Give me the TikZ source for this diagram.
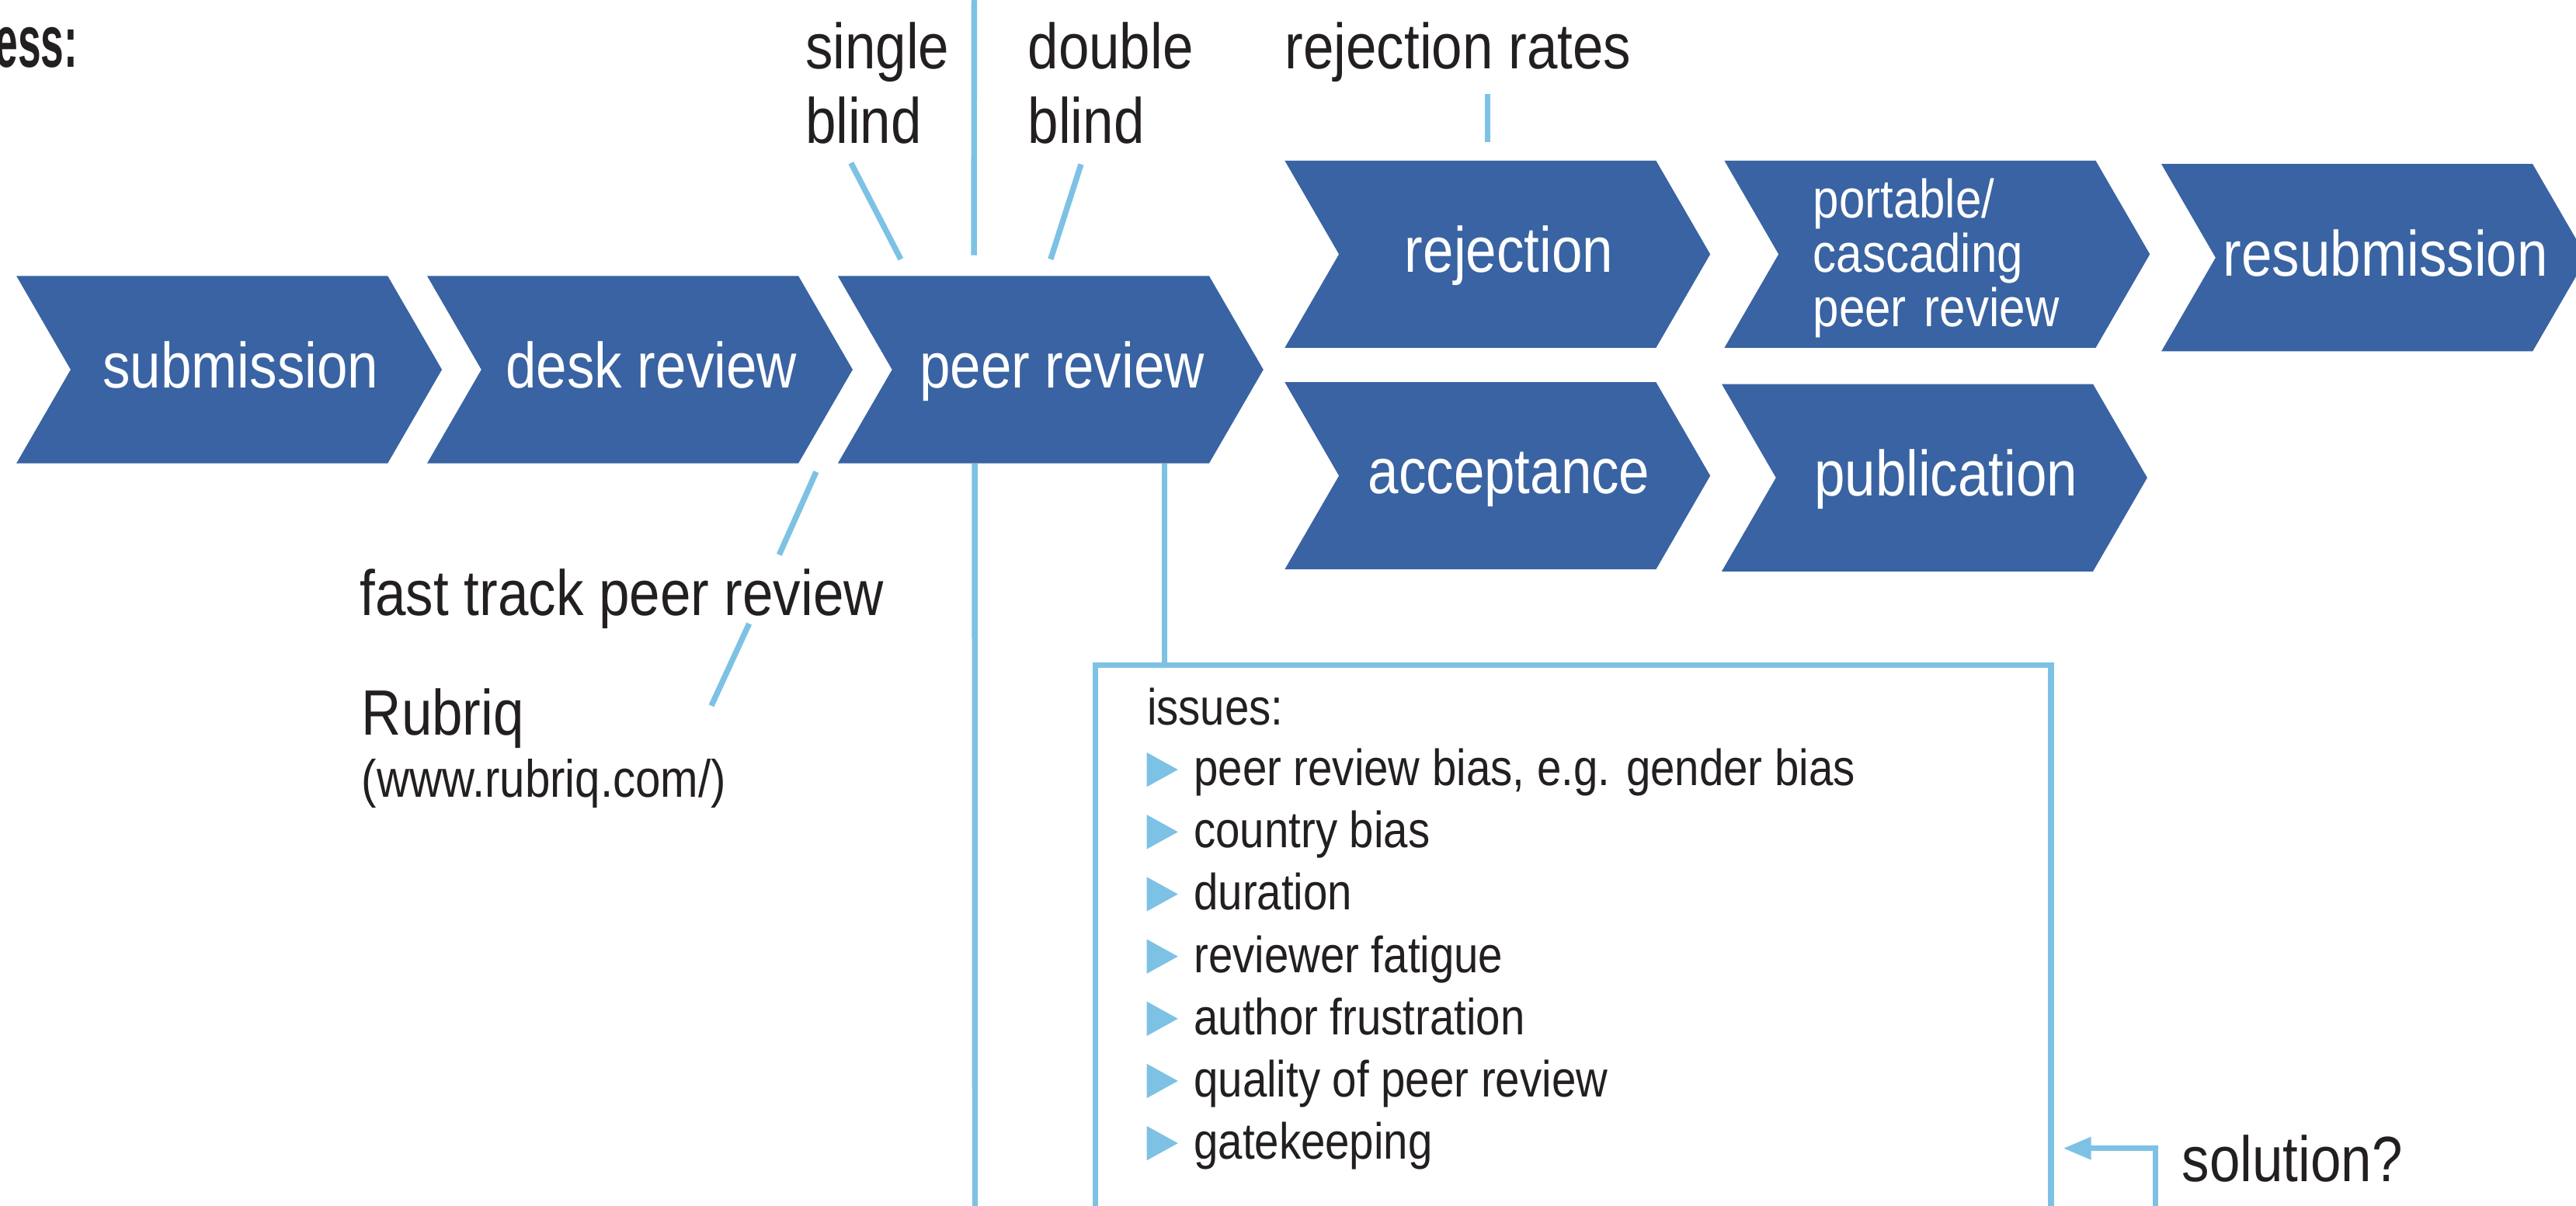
\documentclass[tikz,border=0pt]{standalone}
\usepackage{fontspec}
\setmainfont{Liberation Sans}[FakeStretch=0.86]
\newfontfamily\headfont{Liberation Sans}[FakeStretch=0.56]
\usetikzlibrary{arrows.meta,calc}
\definecolor{stageblue}{RGB}{57,99,162}
\definecolor{linkblue}{RGB}{125,194,228}
\definecolor{inkgray}{RGB}{35,31,32}
\tikzstyle{every node}=[inner sep=0pt,text=inkgray]
\tikzstyle{stage}=[minimum width=273pt,minimum height=114pt,text=white,font=\fontsize{39}{45}\selectfont,
    path picture={\fill[stageblue] (path picture bounding box.north west)
        -- ([xshift=226pt]path picture bounding box.north west)
        -- ([xshift=259pt]path picture bounding box.west)
        -- ([xshift=226pt]path picture bounding box.south west)
        -- (path picture bounding box.south west)
        -- ([xshift=33pt]path picture bounding box.west) -- cycle;}]
\tikzstyle{oneline}=[stage,text height=22pt,text depth=0pt]
\tikzstyle{note}=[font=\fontsize{39}{45}\selectfont,align=left,anchor=base west]
\tikzstyle{issue}=[font=\fontsize{31}{38}\selectfont,anchor=base west]
\tikzstyle{link}=[draw=linkblue,line width=3.5pt]

\begin{document}
\begin{tikzpicture}[x=1pt,y=-1pt]
    \useasboundingbox (0,0) rectangle (1568,734);
    % stages
    \node[oneline] (sub) at (146.5,225) {submission};
    \node[oneline] (desk) at (396.5,225) {desk review};
    \node[oneline] (peer) at (646.5,225) {peer review};
    \node[oneline] (rej) at (918.5,154.75) {rejection};
    \node[stage,font=\fontsize{33}{33}\selectfont,align=left,text width=165pt,text height=29pt] (port) at (1186.1,154.75) {portable/\\cascading\\peer review};
    \node[oneline] (resub) at (1452.1,156.85) {resubmission};
    \node[oneline] (acc) at (918.5,289.6) {acceptance};
    \node[oneline] (pub) at (1184.5,290.8) {publication};
    % notes
    \node[font=\headfont\bfseries\fontsize{45}{50}\selectfont,anchor=base east] (heading) at (47.5,41) {ess:};
    \node[note] (single) at (490,87) {single\\blind};
    \node[note] (double) at (625.5,87) {double\\blind};
    \node[note] (rates) at (782,41.9) {rejection rates};
    \node[note] (fast) at (219,374.6) {fast track peer review};
    \node[note] (rubriq) at (220,447.5) {Rubriq};
    \node[note,font=\fontsize{32}{38}\selectfont] (rubriqurl) at (220,485) {(www.rubriq.com/)};
    \node[note] (solution) at (1328,719) {solution?};
    % issues box
    \node[link,minimum width=581.7pt,minimum height=360pt,anchor=north west] (issues) at (665,403) {};
    \node[issue] (issuehead) at (698,441.4) {issues:};
    \foreach \txt [count=\i] in {{peer review bias, e.g. gender bias},country bias,duration,
        reviewer fatigue,author frustration,quality of peer review,gatekeeping} {
        \node[issue] (issue\i) at (726.5,{478.2+37.9*(\i-1)}) {\txt};
        \fill[linkblue] ($(issue\i.base west)+(-28.5,-20.2)$) -- ++(19,10.5) -- ++(-19,10.5) -- cycle;
    }
    % connectors
    \coordinate (top) at (593,-5);
    \coordinate (bottom) at (593.5,745);
    \coordinate (singleend) at (518,99.2);
    \coordinate (doubleend) at (658,100);
    \coordinate (solfoot) at (1312,745);
    \coordinate (soltip) at (1255.8,699);
    \draw[link] (top) -- ([xshift=83pt,yshift=12.4pt]peer.north west);
    \draw[link] (singleend) -- ([xshift=38.5pt,yshift=10pt]peer.north west);
    \draw[link] (doubleend) -- ([xshift=129.7pt,yshift=10pt]peer.north west);
    \draw[link] ([xshift=123.6pt,yshift=11pt]rej.north west) -- ++(0,-29.2);
    \draw[link] ([xshift=237pt,yshift=-5pt]desk.south west) -- ++(-22.5,50.5);
    \draw[link] ([xshift=237pt,yshift=-5pt]fast.base west) -- ++(-23,50);
    \draw[link] ([xshift=83.5pt]peer.south west) -- (bottom);
    \draw[link] ([xshift=199pt]peer.south west) -- ([xshift=199pt]peer.south west |- issues.north);
    \draw[link,-{Triangle[length=17pt,width=13pt]}] (solfoot) |- (soltip);
\end{tikzpicture}
\end{document}
